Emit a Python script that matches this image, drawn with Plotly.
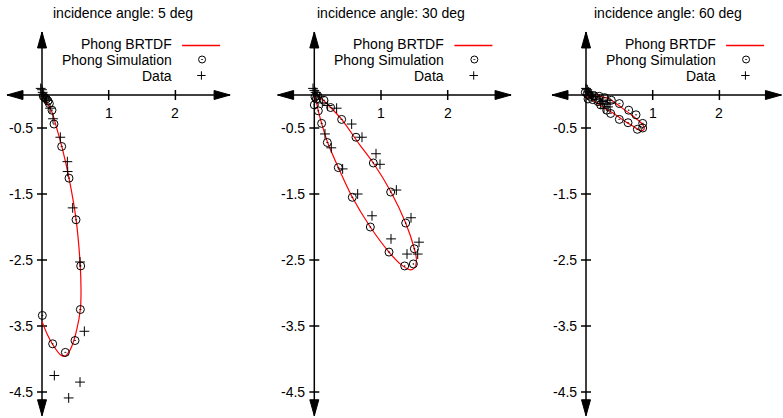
import plotly.graph_objects as go

# ---------------- data ----------------
titles = ["incidence angle: 5 deg", "incidence angle: 30 deg", "incidence angle: 60 deg"]
legend_labels = ["Phong BRTDF", "Phong Simulation", "Data"]
x_tick_vals = [1, 2]
x_tick_text = ["1", "2"]
y_tick_vals = [-0.5, -1.5, -2.5, -3.5, -4.5]
y_tick_text = ["-0.5", "-1.5", "-2.5", "-3.5", "-4.5"]

# 5 deg
curve5_x = [0, 0.05, 0.15, 0.22, 0.30, 0.405, 0.51, 0.57, 0.585, 0.575, 0.52, 0.45, 0.40, 0.345, 0.28, 0.16, 0.08, 0.0]
curve5_y = [0, -0.08, -0.26, -0.50, -0.79, -1.26, -1.88, -2.53, -2.95, -3.25, -3.56, -3.80, -3.90, -3.96, -3.94, -3.78, -3.63, -3.43]
sim5_x = [0.02, 0.04, 0.065, 0.09, 0.11, 0.15, 0.18, 0.295, 0.405, 0.51, 0.58, 0.575, 0.495, 0.35, 0.16, 0.005]
sim5_y = [-0.02, -0.04, -0.06, -0.09, -0.13, -0.23, -0.44, -0.78, -1.26, -1.89, -2.59, -3.25, -3.72, -3.90, -3.77, -3.34]
data5_x = [-0.02, 0.0, 0.01, 0.02, 0.03, 0.05, 0.07, 0.12, 0.165, 0.275, 0.38, 0.385, 0.46, 0.57, 0.635, 0.185, 0.57, 0.40]
data5_y = [0.10, 0.08, 0.04, 0.01, -0.02, -0.05, -0.08, -0.20, -0.36, -0.64, -1.01, -1.16, -1.71, -2.53, -3.58, -4.25, -4.35, -4.59]

# 30 deg
curve30_x = [0, 0.03, 0.06, 0.11, 0.20, 0.36, 0.57, 0.84, 1.12, 1.30, 1.44, 1.51, 1.53, 1.50, 1.37, 1.15, 0.885, 0.685, 0.41, 0.245, 0.10, 0]
curve30_y = [0, -0.10, -0.24, -0.43, -0.72, -1.10, -1.55, -2.00, -2.38, -2.57, -2.65, -2.61, -2.48, -2.33, -1.94, -1.47, -1.03, -0.76, -0.37, -0.19, -0.05, 0]
sim30_x = [0.01, 0.03, 0.0, 0.06, 0.11, 0.195, 0.36, 0.57, 0.84, 1.12, 1.355, 1.485, 1.50, 1.37, 1.145, 0.885, 0.625, 0.41, 0.245, 0.145, 0.05]
sim30_y = [-0.03, -0.06, -0.15, -0.24, -0.43, -0.72, -1.10, -1.55, -2.00, -2.38, -2.59, -2.56, -2.33, -1.94, -1.47, -1.03, -0.64, -0.37, -0.19, -0.08, -0.01]
data30_x = [-0.02, 0.0, 0.02, 0.04, 0.08, 0.12, 0.20, 0.16, 0.255, 0.425, 0.65, 0.865, 1.15, 1.39, 1.55, 1.57, 1.45, 1.23, 0.985, 0.925, 0.715, 0.56, 0.335]
data30_y = [0.10, 0.07, 0.04, 0.01, -0.03, -0.12, -0.16, -0.59, -0.80, -1.12, -1.50, -1.83, -2.18, -2.41, -2.41, -2.23, -1.86, -1.44, -1.05, -0.89, -0.64, -0.44, -0.20]

# 60 deg
curve60_x = [0, 0.10, 0.20, 0.33, 0.45, 0.56, 0.68, 0.78, 0.85, 0.875, 0.84, 0.80, 0.70, 0.60, 0.50, 0.40, 0.28, 0.15, 0.05, 0]
curve60_y = [0, -0.005, -0.02, -0.05, -0.13, -0.21, -0.30, -0.38, -0.45, -0.51, -0.54, -0.535, -0.47, -0.41, -0.34, -0.27, -0.20, -0.11, -0.04, 0]
sim60_x = [-0.01, 0.02, 0.04, 0.06, 0.03, 0.12, 0.20, 0.28, 0.38, 0.50, 0.64, 0.75, 0.85, 0.85, 0.77, 0.63, 0.50, 0.37, 0.31, 0.22, 0.18, 0.10]
sim60_y = [0.04, 0.02, 0.0, -0.02, -0.06, -0.01, -0.02, -0.04, -0.08, -0.13, -0.23, -0.30, -0.43, -0.50, -0.52, -0.42, -0.37, -0.28, -0.23, -0.15, -0.10, -0.07]
data60_x = [0.0, 0.02, 0.04, 0.06, 0.08, 0.10, 0.14, 0.20, 0.25, 0.30, 0.33, 0.27, 0.22, 0.36, 0.32]
data60_y = [0.10, 0.08, 0.05, 0.03, 0.0, -0.03, -0.02, -0.06, -0.10, -0.14, -0.18, -0.20, -0.13, -0.12, -0.08]

panels = [
    (curve5_x, curve5_y, sim5_x, sim5_y, data5_x, data5_y),
    (curve30_x, curve30_y, sim30_x, sim30_y, data30_x, data30_y),
    (curve60_x, curve60_y, sim60_x, sim60_y, data60_x, data60_y),
]

# ---------------- layout constants ----------------
W, H = 783, 418
SX, SY = 66.7, 66.0
origin_px = [42, 53.3, 64]
panel_w = 261
y_range = [-(H - 95) / SY, 95 / SY]
left_tip = [-0.525, -0.55, -0.51]
right_tip = [2.82, 2.95, 2.93]
up_tip, down_tip = 0.955, -4.86
title_x = [1.21, 1.15, 1.23]
FONT = "Liberation Sans, Arial, Helvetica, sans-serif"
FS = 14
legend_rows = [(95 - 43.5) / SY, (95 - 59.5) / SY, (95 - 75.5) / SY]
legend_line_y = (95 - 45.5) / SY

fig = go.Figure()
shapes, annotations = [], []
layout_axes = {}

for i, (cx, cy, sx, sy, dx, dy) in enumerate(panels):
    xa = "x" if i == 0 else f"x{i+1}"
    ya = "y" if i == 0 else f"y{i+1}"
    xname = "xaxis" if i == 0 else f"xaxis{i+1}"
    yname = "yaxis" if i == 0 else f"yaxis{i+1}"
    d0 = i * panel_w / W
    d1 = min((i + 1) * panel_w / W, 1)
    o = origin_px[i]
    layout_axes[xname] = dict(domain=[d0, d1], range=[-o / SX, (panel_w - o) / SX],
                              visible=False, fixedrange=True, anchor=ya)
    layout_axes[yname] = dict(domain=[0, 1], range=y_range, visible=False,
                              fixedrange=True, anchor=xa)

    fig.add_trace(go.Scatter(x=cx, y=cy, mode="lines", xaxis=xa, yaxis=ya,
                             line=dict(color="red", width=1.2, shape="spline", smoothing=0.8),
                             showlegend=False, hoverinfo="skip"))
    fig.add_trace(go.Scatter(x=sx, y=sy, mode="markers", xaxis=xa, yaxis=ya,
                             marker=dict(symbol="circle-open-dot", size=8, color="black",
                                         line=dict(width=1, color="black")),
                             showlegend=False, hoverinfo="skip"))
    fig.add_trace(go.Scatter(x=dx, y=dy, mode="markers", xaxis=xa, yaxis=ya,
                             marker=dict(symbol="cross-thin-open", size=7, color="black",
                                         line=dict(width=1, color="black")),
                             showlegend=False, hoverinfo="skip"))

    # axes lines
    ax = dict(xref=xa, yref=ya, line=dict(color="black", width=1.5), layer="below")
    shapes.append(dict(type="line", x0=left_tip[i], x1=right_tip[i], y0=0, y1=0, **ax))
    shapes.append(dict(type="line", x0=0, x1=0, y0=down_tip, y1=up_tip, **ax))
    # arrowheads
    al_x, hw_y = 16 / SX, 4.5 / SY
    al_y, hw_x = 16 / SY, 4.5 / SX
    tri = dict(type="path", xref=xa, yref=ya, fillcolor="black", line=dict(color="black", width=1))
    L, R = left_tip[i], right_tip[i]
    shapes.append(dict(path=f"M {L},0 L {L+al_x},{hw_y} L {L+al_x},{-hw_y} Z", **tri))
    shapes.append(dict(path=f"M {R},0 L {R-al_x},{hw_y} L {R-al_x},{-hw_y} Z", **tri))
    shapes.append(dict(path=f"M 0,{up_tip} L {hw_x},{up_tip-al_y} L {-hw_x},{up_tip-al_y} Z", **tri))
    shapes.append(dict(path=f"M 0,{down_tip} L {hw_x},{down_tip+al_y} L {-hw_x},{down_tip+al_y} Z", **tri))
    # ticks
    for v, t in zip(x_tick_vals, x_tick_text):
        shapes.append(dict(type="line", x0=v, x1=v, y0=-5 / SY, y1=5 / SY, **ax))
        annotations.append(dict(x=v, y=-0.27, xref=xa, yref=ya, text=t, showarrow=False,
                                xanchor="center", yanchor="middle",
                                font=dict(family=FONT, size=FS, color="black")))
    for v, t in zip(y_tick_vals, y_tick_text):
        shapes.append(dict(type="line", x0=-5 / SX, x1=5 / SX, y0=v, y1=v, **ax))
        annotations.append(dict(x=-7 / SX, y=v, xref=xa, yref=ya, text=t, showarrow=False,
                                xanchor="right", yanchor="middle",
                                font=dict(family=FONT, size=FS, color="black")))
    # title
    annotations.append(dict(x=title_x[i], y=(95 - 13) / SY, xref=xa, yref=ya, text=titles[i],
                            showarrow=False, xanchor="center", yanchor="middle",
                            font=dict(family=FONT, size=FS, color="black")))
    # legend
    for k, lab in enumerate(legend_labels):
        annotations.append(dict(x=1.98, y=legend_rows[k], xref=xa, yref=ya, text=lab,
                                showarrow=False, xanchor="right", yanchor="middle",
                                font=dict(family=FONT, size=FS, color="black")))
    fig.add_trace(go.Scatter(x=[2.1, 2.67], y=[legend_line_y, legend_line_y], mode="lines",
                             xaxis=xa, yaxis=ya, line=dict(color="#ff0000", width=1.3),
                             showlegend=False, hoverinfo="skip"))
    fig.add_trace(go.Scatter(x=[2.40], y=[legend_rows[1]], mode="markers", xaxis=xa, yaxis=ya,
                             marker=dict(symbol="circle-open-dot", size=7, color="black",
                                         line=dict(width=1, color="black")),
                             showlegend=False, hoverinfo="skip"))
    fig.add_trace(go.Scatter(x=[2.39], y=[legend_rows[2]], mode="markers", xaxis=xa, yaxis=ya,
                             marker=dict(symbol="cross-thin-open", size=6, color="black",
                                         line=dict(width=1, color="black")),
                             showlegend=False, hoverinfo="skip"))

fig.update_layout(width=W, height=H, margin=dict(l=0, r=0, t=0, b=0),
                  paper_bgcolor="white", plot_bgcolor="white",
                  shapes=shapes, annotations=annotations, showlegend=False,
                  hovermode=False, **layout_axes)
fig.write_html("out.html", config={"displayModeBar": False},
               post_script="document.body.style.margin='0px';document.body.style.overflow='hidden';")
